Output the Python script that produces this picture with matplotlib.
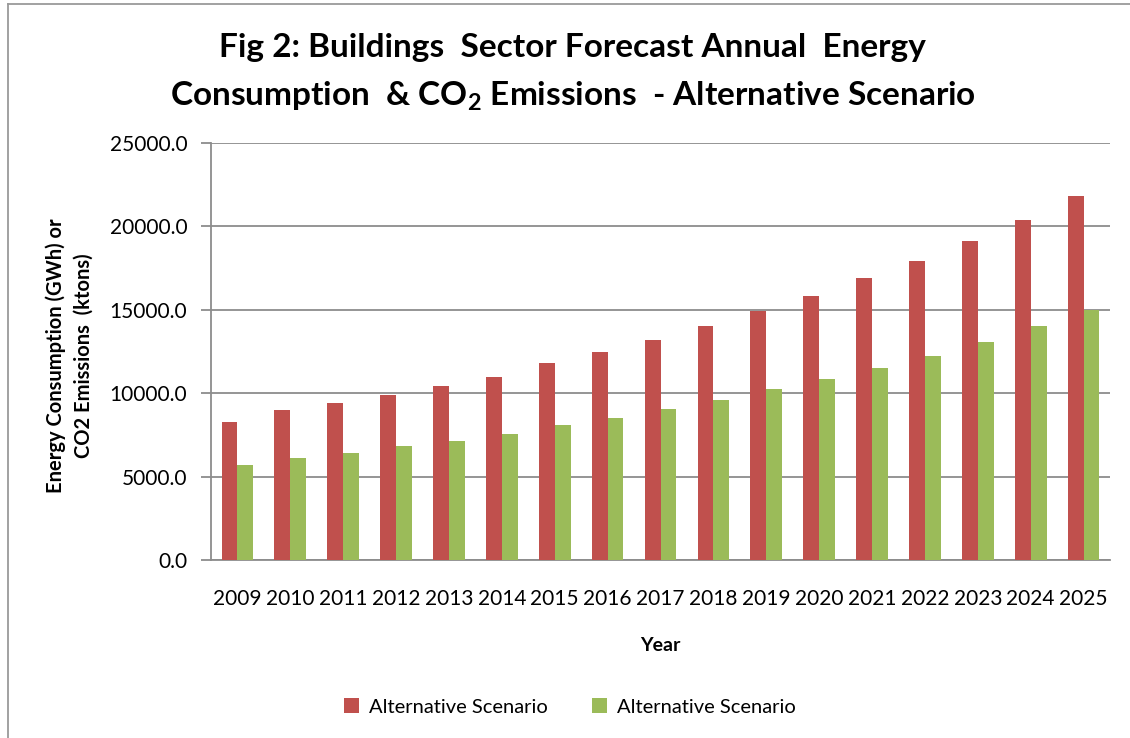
import numpy as np
import matplotlib.pyplot as plt
from matplotlib.lines import Line2D

# data
years = ["2009", "2010", "2011", "2012", "2013", "2014", "2015", "2016", "2017",
         "2018", "2019", "2020", "2021", "2022", "2023", "2024", "2025"]
energy = [8300, 9000, 9400, 9900, 10450, 10950, 11800, 12450, 13200,
          14050, 14900, 15850, 16900, 17950, 19100, 20400, 21850]
co2 = [5680, 6100, 6420, 6840, 7150, 7580, 8100, 8540, 9060,
       9600, 10250, 10870, 11500, 12230, 13090, 14030, 14980]
series_names = ["Alternative Scenario", "Alternative Scenario"]
yticks = [0, 5000, 10000, 15000, 20000, 25000]

plt.rcParams['font.family'] = ['Lato', 'DejaVu Sans']
plt.rcParams['mathtext.fontset'] = 'custom'
plt.rcParams['mathtext.rm'] = 'Lato'
plt.rcParams['mathtext.bf'] = 'Lato:bold'

red = "#C0504D"
green = "#9BBB59"
grid_c = "#8C8C8C"

fig = plt.figure(figsize=(11.3, 7.38), dpi=100)
ax = fig.add_axes([211/1130, 1-560/738, (1110-211)/1130, (560-143)/738])

x = np.arange(len(years))
w = 0.3
ax.bar(x - w/2, energy, w, color=red, label=series_names[0], zorder=3)
ax.bar(x + w/2, co2, w, color=green, label=series_names[1], zorder=3)

ax.set_xlim(-0.5, len(years) - 0.5)
ax.set_ylim(0, 25000)
ax.set_yticks(yticks)
ax.set_yticklabels([f"{v:.1f}" for v in yticks], fontsize=15)
ax.set_xticks(x)
ax.set_xticklabels(years, fontsize=15)
ax.tick_params(axis='x', length=0, pad=21)
ax.tick_params(axis='y', length=7, width=1.3, color=grid_c, pad=10)
ax.yaxis.grid(True, color=grid_c, linewidth=1.3, zorder=0)

for s in ["top", "right"]:
    ax.spines[s].set_visible(False)
for s in ["left", "bottom"]:
    ax.spines[s].set_color(grid_c)
    ax.spines[s].set_linewidth(1.3)

ax.set_xlabel("Year", fontsize=14, fontweight="bold", labelpad=20)
ax.set_ylabel("Energy Consumption (GWh) or\nCO2 Emissions  (ktons)",
              fontsize=14.5, fontweight="bold", linespacing=1.45)
ax.yaxis.set_label_coords(-0.131, 0.49)

fig.text(0.507, 1-48/738, "Fig 2: Buildings  Sector Forecast Annual  Energy",
         ha="center", va="center", fontsize=24, fontweight="bold")
fig.text(0.507, 1-96/738, r"Consumption  & CO$_\mathbf{2}$ Emissions  - Alternative Scenario",
         ha="center", va="center", fontsize=24, fontweight="bold")

fig.legend(loc="center", bbox_to_anchor=(570/1130, 1-707/738), ncol=2,
           frameon=False, fontsize=14.5, handlelength=0.75, handleheight=0.75,
           handletextpad=0.5, columnspacing=2.2)

# outer chart border
fig.add_artist(Line2D([8/1130, 8/1130], [0, 1-4/738], color="#9A9A9A", lw=1.3))
fig.add_artist(Line2D([8/1130, 1], [1-4/738, 1-4/738], color="#9A9A9A", lw=1.3))

fig.savefig("out.png", dpi=100)
